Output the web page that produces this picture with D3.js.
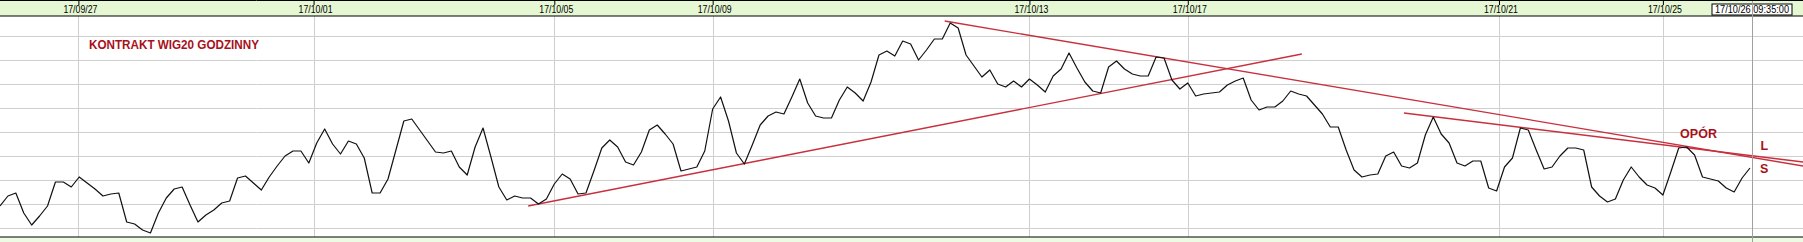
<!DOCTYPE html>
<html>
<head>
<meta charset="utf-8">
<script src="https://cdn.jsdelivr.net/npm/d3@7"></script>
<style>
  body { margin: 0; background: #ffffff; }
  svg { display: block; font-family: "Liberation Sans", Arial, sans-serif; }
</style>
</head>
<body>
<div id="chart"></div>
<script>
const width = 1803,
  height = 242,
  headerH = 16,
  plotBottom = 237;

// hourly closes of the WIG20 future
const prices = [
  2462, 2472, 2475, 2455, 2443, 2452, 2462, 2486, 2486, 2481,
  2491, 2485, 2479, 2472, 2474, 2475, 2446, 2444, 2438, 2435,
  2455, 2470, 2479, 2481, 2463, 2446, 2453, 2458, 2465, 2467,
  2490, 2492, 2485, 2478, 2491, 2502, 2512, 2517, 2517, 2505,
  2525, 2539, 2524, 2514, 2527, 2524, 2510, 2475, 2475, 2489,
  2518, 2547, 2549, 2538, 2527, 2516, 2515, 2517, 2501, 2493,
  2521, 2540, 2511, 2481, 2468, 2472, 2470, 2470, 2464, 2469,
  2484, 2494, 2489, 2474, 2475, 2497, 2520, 2528, 2521, 2506,
  2503, 2516, 2538, 2543, 2534, 2524, 2497, 2499, 2501, 2517,
  2559, 2571, 2547, 2515, 2504, 2523, 2543, 2552, 2556, 2554,
  2571, 2589, 2565, 2552, 2550, 2550, 2568, 2581, 2575, 2567,
  2586, 2613, 2617, 2612, 2627, 2624, 2608, 2618, 2629, 2629,
  2645, 2640, 2613, 2602, 2591, 2598, 2584, 2581, 2587, 2581,
  2589, 2583, 2576, 2592, 2599, 2615, 2600, 2586, 2577, 2575,
  2601, 2607, 2599, 2594, 2592, 2592, 2611, 2610, 2588, 2579,
  2585, 2572, 2574, 2575, 2576, 2583, 2587, 2590, 2568, 2558,
  2561, 2561, 2567, 2577, 2574, 2572, 2563, 2554, 2541, 2541,
  2518, 2498, 2491, 2493, 2494, 2512, 2516, 2502, 2500, 2505,
  2533, 2551, 2534, 2525, 2505, 2502, 2507, 2507, 2480, 2477,
  2501, 2510, 2540, 2538, 2518, 2499, 2501, 2512, 2520, 2520,
  2518, 2481, 2472, 2466, 2469, 2488, 2501, 2491, 2483, 2480,
  2473, 2496, 2520, 2521, 2513, 2491, 2489, 2487, 2480, 2476,
  2490, 2500
];

// date ticks (bar index where the day starts)
const tickIdx = [9.9, 39.6, 70, 90, 130, 150, 189.3, 210];
const tickLabels = ["17/09/27", "17/10/01", "17/10/05", "17/10/09", "17/10/13", "17/10/17", "17/10/21", "17/10/25"];
const nowIdx = 221.25;
const nowLabel = "17/10/26 09:35:00";

// horizontal grid levels
const gridLevels = d3.range(2440, 2633, 24);

// trend lines [bar index, price]
const trendLines = [
  [[66.7, 2462], [164.4, 2614]],
  [[119.3, 2647], [227.7, 2502]],
  [[177.3, 2555], [227.7, 2506]]
];

// texts [bar index, price, text]
const notes = [
  [214.5, 2530.5, "OPÓR"],
  [222.8, 2518.5, "L"],
  [222.8, 2495.5, "S"]
];
const title = "KONTRAKT  WIG20  GODZINNY";

const xScale = d3.scaleLinear().domain([0, prices.length - 1]).range([0, 1750]);
const yScale = d3.scaleLinear().domain([2440, 2632]).range([228, 36]);

const svg = d3.select("#chart").append("svg")
  .attr("width", width)
  .attr("height", height);

svg.append("rect")
  .attr("width", width)
  .attr("height", height)
  .attr("fill", "#ffffff");

//grid
svg.append("g").selectAll("line")
  .data(gridLevels)
  .enter()
  .append("line")
  .attr("x1", 0)
  .attr("x2", width)
  .attr("y1", (d) => Math.round(yScale(d)) + 0.5)
  .attr("y2", (d) => Math.round(yScale(d)) + 0.5)
  .attr("stroke", "#cfcfcf");

svg.append("g").selectAll("line")
  .data(tickIdx)
  .enter()
  .append("line")
  .attr("x1", (d) => Math.round(xScale(d)) + 0.5)
  .attr("x2", (d) => Math.round(xScale(d)) + 0.5)
  .attr("y1", headerH)
  .attr("y2", plotBottom)
  .attr("stroke", "#cfcfcf");

//trend lines
svg.append("g").selectAll("line")
  .data(trendLines)
  .enter()
  .append("line")
  .attr("x1", (d) => xScale(d[0][0]))
  .attr("y1", (d) => yScale(d[0][1]))
  .attr("x2", (d) => xScale(d[1][0]))
  .attr("y2", (d) => yScale(d[1][1]))
  .attr("stroke", "#c8303e")
  .attr("stroke-width", 1.3);

//price line
const line = d3.line()
  .x((d, i) => xScale(i))
  .y((d) => yScale(d));

svg.append("path")
  .datum(prices)
  .attr("d", line)
  .attr("fill", "none")
  .attr("stroke", "#111111")
  .attr("stroke-width", 1.2)
  .attr("stroke-linejoin", "round");

//texts
svg.append("text")
  .attr("x", 89)
  .attr("y", 48.5)
  .attr("fill", "#a8101a")
  .attr("font-weight", "bold")
  .attr("font-size", "12.5px")
  .attr("textLength", 170)
  .attr("lengthAdjust", "spacingAndGlyphs")
  .text(title);

svg.append("g").selectAll("text")
  .data(notes)
  .enter()
  .append("text")
  .attr("x", (d) => xScale(d[0]))
  .attr("y", (d) => yScale(d[1]))
  .attr("text-anchor", "middle")
  .attr("fill", "#a8101a")
  .attr("font-weight", "bold")
  .attr("font-size", "12.5px")
  .text((d) => d[2]);

//header band
svg.append("rect")
  .attr("x", 0)
  .attr("y", 0)
  .attr("width", width)
  .attr("height", headerH)
  .attr("fill", "#e5f7d3");

svg.append("rect")
  .attr("x", 0)
  .attr("y", plotBottom)
  .attr("width", width)
  .attr("height", height - plotBottom)
  .attr("fill", "#eefbe4");

const xAxis = d3.axisBottom(xScale)
  .tickValues(tickIdx)
  .tickFormat((d, i) => tickLabels[i])
  .tickSize(5)
  .tickSizeOuter(0);

const axisG = svg.append("g")
  .attr("transform", "translate(0,0)")
  .call(xAxis);
axisG.select(".domain").remove();
axisG.selectAll(".tick line").attr("stroke", "#000");
axisG.selectAll(".tick text")
  .attr("y", 12.5)
  .attr("dy", 0)
  .attr("dx", 1.5)
  .attr("fill", "#000")
  .style("font-size", "11px")
  .style("font-family", "Liberation Sans, Arial, sans-serif")
  .attr("textLength", 34)
  .attr("lengthAdjust", "spacingAndGlyphs");

svg.append("line")
  .attr("x1", 0).attr("x2", width)
  .attr("y1", 0.5).attr("y2", 0.5)
  .attr("stroke", "#000");
svg.append("line")
  .attr("x1", 0).attr("x2", width)
  .attr("y1", headerH).attr("y2", headerH)
  .attr("stroke", "#000")
  .attr("stroke-width", 1.2);
svg.append("line")
  .attr("x1", 0).attr("x2", width)
  .attr("y1", plotBottom).attr("y2", plotBottom)
  .attr("stroke", "#000")
  .attr("stroke-width", 1.2);

//current time marker
svg.append("rect")
  .attr("x", 1712)
  .attr("y", 4)
  .attr("width", 80)
  .attr("height", 11)
  .attr("fill", "#ffffff")
  .attr("stroke", "#000");

svg.append("text")
  .attr("x", 1752)
  .attr("y", 13)
  .attr("text-anchor", "middle")
  .attr("font-size", "11px")
  .attr("textLength", 74)
  .attr("lengthAdjust", "spacingAndGlyphs")
  .text(nowLabel);

svg.append("line")
  .attr("x1", Math.round(xScale(nowIdx)) + 0.5)
  .attr("x2", Math.round(xScale(nowIdx)) + 0.5)
  .attr("y1", 1)
  .attr("y2", height)
  .attr("stroke", "#a0a0a0");
</script>
</body>
</html>
